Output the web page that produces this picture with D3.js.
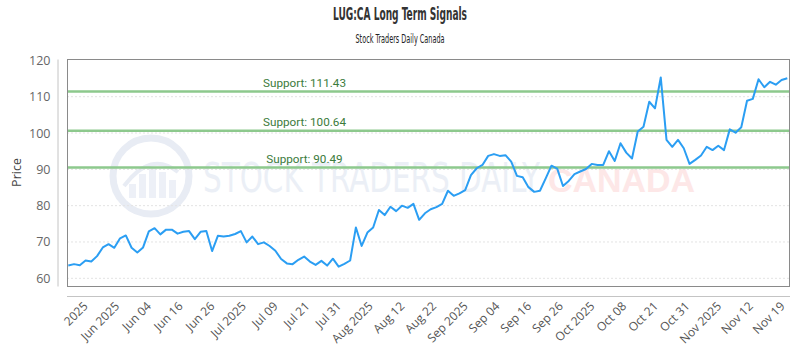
<!DOCTYPE html>
<html>
<head>
<meta charset="utf-8">
<script src="https://cdn.jsdelivr.net/npm/d3@7/dist/d3.min.js"></script>
<style>
  body { margin: 0; background: #fff; }
  .tick text { font-family: "Open Sans", sans-serif; }
</style>
</head>
<body>
<script>
// daily closes
var prices = [63.5, 63.9, 63.6, 64.9, 64.6, 66.1, 68.5, 69.4, 68.4, 71.0,
  71.8, 68.4, 67.1, 68.5, 72.9, 73.8, 72.1, 73.4, 73.4, 72.3,
  72.8, 73.0, 70.8, 72.8, 73.0, 67.5, 71.7, 71.5, 71.7, 72.2,
  73.0, 69.9, 71.5, 69.4, 69.9, 68.9, 67.6, 65.3, 64.1, 63.9,
  65.1, 66.0, 64.6, 63.7, 64.8, 63.5, 65.4, 63.2, 64.0, 64.9,
  74.0, 68.9, 72.6, 74.0, 78.8, 77.4, 79.7, 78.5, 80.0, 79.4,
  80.5, 76.1, 77.9, 79.0, 79.6, 80.5, 84.1, 82.7, 83.4, 84.3,
  88.4, 90.3, 91.2, 93.7, 94.2, 93.7, 93.9, 92.1, 88.2, 87.8,
  85.1, 83.8, 84.1, 87.5, 91.0, 90.2, 85.4, 86.8, 88.7, 89.4,
  90.1, 91.5, 91.2, 91.2, 95.0, 92.3, 97.2, 94.6, 93.0, 100.4,
  101.7, 108.6, 106.8, 115.3, 98.1, 96.2, 98.1, 95.8, 91.5, 92.6,
  93.8, 96.2, 95.3, 96.5, 95.3, 101.0, 100.1, 101.6, 108.9, 109.4,
  114.8, 112.6, 114.1, 113.3, 114.6, 115.1];

var dateLabels = ["2025", "Jun 2025", "Jun 04", "Jun 16", "Jun 26", "Jul 2025",
  "Jul 09", "Jul 21", "Jul 31", "Aug 2025", "Aug 12", "Aug 22", "Sep 2025",
  "Sep 04", "Sep 16", "Sep 26", "Oct 2025", "Oct 08", "Oct 21", "Oct 31",
  "Nov 2025", "Nov 12", "Nov 19"];

var supports = [111.43, 100.64, 90.49];
var yTicks = [60, 70, 80, 90, 100, 110, 120];

var width = 800, height = 350;
var pLeft = 67, pRight = 790, pTop = 59, pBottom = 286;

var svg = d3.select("body").append("svg")
  .attr("width", width)
  .attr("height", height);

var x = d3.scaleLinear()
  .domain([0, prices.length - 1])
  .range([pLeft + 1.3, pRight - 2.7]);

var y = d3.scaleLinear()
  .domain([57.88, 120.38])
  .range([pBottom, pTop]);

// watermark
var wm = svg.append("g");
wm.append("circle")
  .attr("cx", 151).attr("cy", 176).attr("r", 38)
  .attr("fill", "none").attr("stroke", "#e8ecf4").attr("stroke-width", 7);
[[-22, 14], [-12, 24], [-2, 30], [8, 26], [18, 18]].forEach(function(b) {
  wm.append("rect")
    .attr("x", 151 + b[0]).attr("y", 204 - b[1] - 6)
    .attr("width", 7).attr("height", b[1])
    .attr("fill", "#edf0f7");
});
wm.append("path")
  .attr("d", "M124,186 Q151,150 178,172")
  .attr("fill", "none").attr("stroke", "#e8ecf4").attr("stroke-width", 4);
wm.append("text")
  .attr("x", 203).attr("y", 191.5)
  .attr("textLength", 337).attr("lengthAdjust", "spacingAndGlyphs")
  .style("font-family", "'Liberation Sans Narrow', 'DejaVu Sans Condensed', Roboto, sans-serif")
  .style("font-size", "41px")
  .attr("fill", "#ebeff6")
  .text("STOCK TRADERS DAILY");
wm.append("text")
  .attr("x", 548).attr("y", 191.5)
  .attr("textLength", 147).attr("lengthAdjust", "spacingAndGlyphs")
  .style("font-family", "'Liberation Sans', Arial, sans-serif")
  .style("font-weight", "bold")
  .style("font-size", "33px")
  .attr("fill", "#fde7e7")
  .text("CANADA");

// grid
svg.append("g")
  .selectAll("line")
  .data(yTicks.filter(function(d) { return d < 120; }))
  .enter().append("line")
  .attr("x1", pLeft).attr("x2", pRight)
  .attr("y1", function(d) { return y(d); })
  .attr("y2", function(d) { return y(d); })
  .attr("stroke", "#e3e3e3")
  .attr("stroke-dasharray", "2,2");

// support lines
var sup = svg.append("g");
sup.selectAll("line")
  .data(supports)
  .enter().append("line")
  .attr("x1", pLeft).attr("x2", pRight)
  .attr("y1", function(d) { return y(d); })
  .attr("y2", function(d) { return y(d); })
  .attr("stroke", "#8dc98d")
  .attr("stroke-width", 2.5);
sup.selectAll("text")
  .data(supports)
  .enter().append("text")
  .attr("x", 304.5)
  .attr("y", function(d) { return y(d) - 5; })
  .attr("text-anchor", "middle")
  .style("font-family", "Roboto, sans-serif")
  .style("font-size", "11.7px")
  .attr("fill", "#3b7b3b")
  .text(function(d) { return "Support: " + d.toFixed(2); });

// price line
var line = d3.line()
  .x(function(d, i) { return x(i); })
  .y(function(d) { return y(d); });

svg.append("path")
  .datum(prices)
  .attr("fill", "none")
  .attr("stroke", "#2b9ef3")
  .attr("stroke-width", 2)
  .attr("stroke-linejoin", "round")
  .attr("d", line);

// plot frame
svg.append("rect")
  .attr("x", pLeft + 0.5).attr("y", pTop + 0.5)
  .attr("width", pRight - pLeft - 1).attr("height", pBottom - pTop)
  .attr("fill", "none")
  .attr("stroke", "#8a8a8a");

// y axis
var yAxis = svg.append("g")
  .attr("transform", "translate(57.5,0)")
  .call(d3.axisLeft(y).tickValues(yTicks).tickSize(0).tickPadding(7).tickSizeOuter(0));
yAxis.select(".domain").attr("stroke", "#c4c4c4");
yAxis.selectAll("text").style("font-size", "12.5px").attr("fill", "#666");

// x axis: labels spread evenly along the bottom
var xLab = d3.scalePoint()
  .domain(dateLabels)
  .range([87, 784]);

svg.append("line")
  .attr("x1", pLeft).attr("x2", pRight)
  .attr("y1", 296.5).attr("y2", 296.5)
  .attr("stroke", "#c4c4c4");

var xAxis = svg.append("g")
  .attr("transform", "translate(0,296.5)")
  .call(d3.axisBottom(xLab).tickSize(0).tickSizeOuter(0));
xAxis.select(".domain").remove();
xAxis.selectAll("text")
  .attr("x", 0).attr("y", 0).attr("dy", 0)
  .attr("text-anchor", "end")
  .attr("transform", "translate(1,10.5) rotate(-45)")
  .style("font-size", "12px")
  .attr("fill", "#555");

// titles
svg.append("text")
  .attr("x", 400).attr("y", 20)
  .attr("text-anchor", "middle")
  .attr("textLength", 134).attr("lengthAdjust", "spacingAndGlyphs")
  .style("font-family", "'Liberation Sans Narrow', 'DejaVu Sans Condensed', Roboto, sans-serif")
  .style("font-size", "17px")
  .style("font-weight", "bold")
  .attr("fill", "#333")
  .text("LUG:CA Long Term Signals");

svg.append("text")
  .attr("x", 400).attr("y", 43)
  .attr("text-anchor", "middle")
  .attr("textLength", 89).attr("lengthAdjust", "spacingAndGlyphs")
  .style("font-family", "'Liberation Sans Narrow', 'DejaVu Sans Condensed', Roboto, sans-serif")
  .style("font-size", "11.5px")
  .attr("fill", "#222")
  .text("Stock Traders Daily Canada");

svg.append("text")
  .attr("transform", "translate(20.5,172.5) rotate(-90)")
  .attr("text-anchor", "middle")
  .style("font-family", "'Open Sans', sans-serif")
  .style("font-size", "12.5px")
  .attr("fill", "#444")
  .text("Price");
</script>
</body>
</html>
